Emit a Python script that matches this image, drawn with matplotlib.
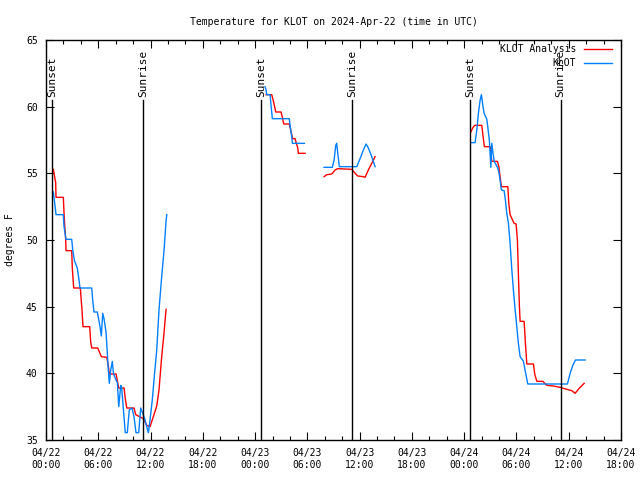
import numpy as np
import pandas as pd
import matplotlib
matplotlib.use('Agg')
import matplotlib.pyplot as plt
import matplotlib.dates as mdates

# hours after 2024-04-22 00:00 UTC, NaN = gap between segments
anl_hours = [0.84, 1.11, 1.15, 1.99, 2.10, 2.26, 2.30, 2.95, 3.02, 3.18, 3.94, 4.02, 4.13, 4.25,
             5.02, 5.13, 5.25, 5.94, 6.35, 6.97, 7.15, 7.27, 8.04, 8.35, 8.96, 9.10, 9.27, 10.10,
             10.30, 11.17, 11.56, 11.94, 12.32, 12.71, 12.97, 13.28, 13.55, 13.78,
             np.nan,
             25.26, 25.91, 26.03, 26.21, 26.37, 26.98, 27.13, 27.29, 27.93, 28.09, 28.21, 28.32,
             28.59, 28.74, 28.90, 28.97, 29.74,
             np.nan,
             31.92, 32.23, 32.80, 33.18, 33.49, 35.10, 35.48, 35.79, 36.43, 36.62, 37.00, 37.39, 37.77,
             np.nan,
             48.76, 49.06, 49.25, 50.02, 50.20, 50.32, 50.98, 51.06, 51.17, 51.82, 51.98, 52.12,
             52.27, 53.01, 53.12, 53.27, 53.73, 53.96, 54.11, 54.22, 54.34, 54.42, 54.88, 55.03,
             55.19, 55.95, 56.11, 56.34, 57.03, 57.49, 58.25, 59.01, 59.78, 60.36, 60.73, 61.23, 61.77]
anl_temp = [55.3, 54.3, 53.2, 53.2, 51.6, 50.0, 49.2, 49.2, 47.9, 46.4, 46.4, 45.7, 44.75, 43.5,
            43.5, 42.35, 41.9, 41.9, 41.25, 41.2, 40.6, 39.95, 39.95, 38.9, 38.9, 38.1, 37.4, 37.4,
            36.9, 36.6, 36.1, 36.0, 36.75, 37.55, 38.75, 41.25, 43.05, 44.8,
            np.nan,
            60.9, 60.9, 60.6, 60.1, 59.6, 59.6, 59.2, 58.7, 58.7, 58.25, 57.9, 57.6,
            57.6, 57.25, 56.9, 56.5, 56.5,
            np.nan,
            54.75, 54.9, 54.95, 55.25, 55.35, 55.3, 55.0, 54.8, 54.75, 54.7, 55.25, 55.75, 56.25,
            np.nan,
            58.1, 58.5, 58.6, 58.6, 57.6, 57.0, 57.0, 56.6, 55.9, 55.9, 55.5, 54.75,
            54.0, 54.0, 52.75, 51.9, 51.25, 51.2, 50.0, 47.5, 45.0, 43.9, 43.9, 42.25,
            40.7, 40.7, 39.9, 39.4, 39.4, 39.1, 39.05, 38.95, 38.8, 38.7, 38.5, 38.9, 39.25]

obs_hours = [0.84, 1.00, 1.15, 1.99, 2.07, 2.30, 2.95, 3.07, 3.25, 3.41, 3.59, 3.79, 3.90, 5.25,
             5.36, 5.51, 5.89, 6.20, 6.35, 6.51, 6.66, 6.89, 7.04, 7.15, 7.27, 7.43, 7.61, 7.75,
             8.04, 8.19, 8.35, 8.58, 8.69, 8.87, 9.10, 9.33, 9.56, 9.87, 10.10, 10.33, 10.64,
             10.87, 11.10, 11.33, 11.56, 11.75, 11.94, 12.20, 12.43, 12.71, 12.97, 13.28, 13.55,
             13.78, 13.86,
             np.nan,
             25.14, 25.26, 25.34, 25.72, 25.83, 25.98, 27.93, 28.05, 28.21, 28.28, 29.66,
             np.nan,
             31.92, 32.87, 33.07, 33.26, 33.37, 33.49, 33.67, 35.67, 36.05, 36.43, 36.74, 37.00,
             37.39, 37.77,
             np.nan,
             48.76, 49.25, 49.45, 49.63, 49.83, 49.98, 50.14, 50.29, 50.60, 50.75, 50.90, 51.06,
             51.17, 51.29, 51.44, 51.82, 51.98, 52.12, 52.27, 52.58, 52.73, 52.89, 53.08, 53.27,
             53.47, 53.65, 53.85, 54.04, 54.22, 54.42, 54.80, 54.99, 55.30, 59.85, 60.16, 60.47,
             60.77, 61.88]
obs_temp = [53.6, 52.75, 51.9, 51.9, 51.0, 50.05, 50.05, 49.25, 48.5, 48.2, 47.9, 47.0, 46.4, 46.4,
            45.5, 44.6, 44.6, 43.5, 42.8, 44.5, 44.1, 43.1, 41.5, 40.25, 39.25, 40.25, 40.9, 39.95,
            39.5, 39.3, 37.5, 39.1, 38.9, 37.4, 35.55, 35.55, 37.25, 37.4, 36.75, 35.55, 35.55,
            37.4, 37.0, 36.6, 36.0, 35.55, 36.5, 38.0, 39.75, 41.75, 44.75, 47.25, 49.25,
            51.4, 51.9,
            np.nan,
            61.5, 61.25, 60.9, 60.9, 60.1, 59.1, 59.1, 58.4, 57.75, 57.25, 57.25,
            np.nan,
            55.45, 55.45, 56.0, 57.1, 57.25, 56.5, 55.5, 55.5, 56.1, 56.75, 57.2, 56.9,
            56.25, 55.5,
            np.nan,
            57.3, 57.3, 58.25, 59.5, 60.5, 60.9, 60.1, 59.5, 59.05, 58.25, 57.4, 55.45,
            57.25, 56.6, 55.9, 55.45, 55.1, 54.5, 53.75, 53.7, 53.0, 52.0, 51.25, 49.75,
            47.75, 46.25, 44.75, 43.5, 42.25, 41.25, 40.9, 40.25, 39.2, 39.2, 40.0, 40.6,
            41.0, 41.0]

sun_times = ['2024-04-22 00:40', '2024-04-22 11:08', '2024-04-23 00:41',
             '2024-04-23 11:06', '2024-04-24 00:42', '2024-04-24 11:05']
sun_labels = ['Sunset', 'Sunrise', 'Sunset', 'Sunrise', 'Sunset', 'Sunrise']

base = pd.Timestamp('2024-04-22 00:00')


def to_time(hours):
    return base + pd.to_timedelta(np.array(hours, dtype=float), unit='h')


plt.rcParams['font.family'] = ['DejaVu Sans Mono']
plt.rcParams['font.size'] = 7

fig = plt.figure(figsize=(6.4, 4.8), dpi=100)
ax = fig.add_axes([46 / 640, 40 / 480, 575 / 640, 400 / 480])

ax.plot(to_time(anl_hours), anl_temp, color='#ff0000', lw=1)
ax.plot(to_time(obs_hours), obs_temp, color='#0080ff', lw=1)

for t, lab in zip(sun_times, sun_labels):
    ts = pd.Timestamp(t)
    ax.plot([ts, ts], [35, 60.5], color='black', lw=1)
    ax.text(ts, 60.75, lab, rotation=90, ha='center', va='bottom', fontsize=8)

ax.set_xlim(base, pd.Timestamp('2024-04-24 18:00'))
ax.set_ylim(35, 65)
ax.set_yticks(range(35, 66, 5))
ax.xaxis.set_major_locator(mdates.HourLocator(byhour=[0, 6, 12, 18]))
ax.xaxis.set_minor_locator(mdates.HourLocator(byhour=range(0, 24, 2)))
ax.xaxis.set_major_formatter(mdates.DateFormatter('%m/%d\n%H:%M'))
ax.tick_params(which='both', direction='in', top=True, right=True, width=0.8)
ax.tick_params(which='major', length=6, pad=6)
ax.tick_params(which='minor', length=3)
for s in ax.spines.values():
    s.set_linewidth(1)

ax.set_ylabel('degrees F', labelpad=8)
ax.set_title('Temperature for KLOT on 2024-Apr-22 (time in UTC)', fontsize=7, pad=11)

# key, gnuplot style: right-aligned text then a line sample
ax.text(0.922, 0.977, 'KLOT Analysis', transform=ax.transAxes, ha='right', va='center')
ax.plot([0.935, 0.985], [0.977, 0.977], color='#ff0000', lw=1, transform=ax.transAxes)
ax.text(0.922, 0.943, 'KLOT', transform=ax.transAxes, ha='right', va='center')
ax.plot([0.935, 0.985], [0.943, 0.943], color='#0080ff', lw=1, transform=ax.transAxes)

fig.savefig('out.png', dpi=100)
